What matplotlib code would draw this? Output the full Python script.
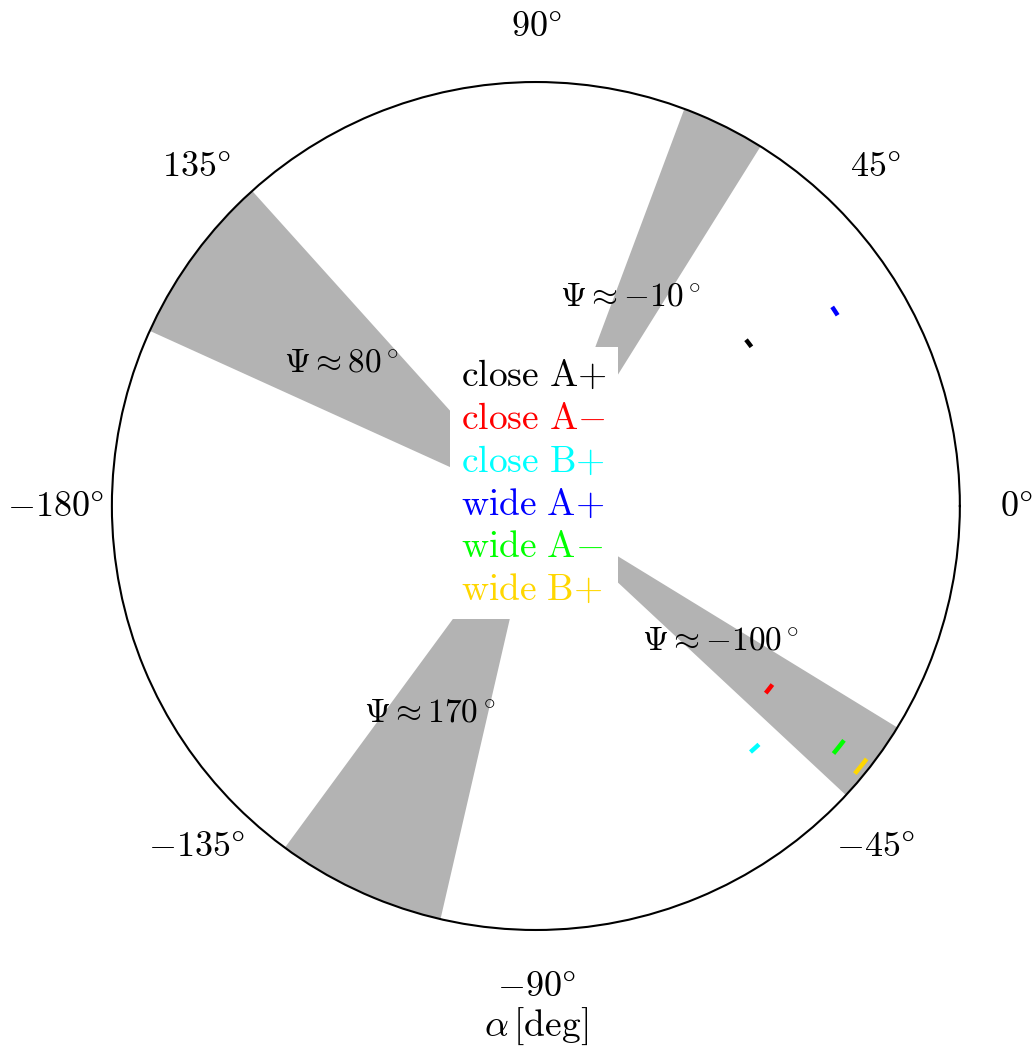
import numpy as np
import matplotlib
matplotlib.use('Agg')
import matplotlib.pyplot as plt
from matplotlib.lines import Line2D

plt.rcParams['mathtext.fontset'] = 'cm'

# gray exclusion wedges (degrees), start / end angle
wedge_start = [58.0, -43.0, 132.0, -126.3]
wedge_end = [69.5, -31.5, 155.6, -103.0]

# wedge labels
psi_labels = [r'$\Psi \approx {-10}^\circ$', r'$\Psi \approx 80^\circ$',
              r'$\Psi \approx {-100}^\circ$', r'$\Psi \approx 170^\circ$']
psi_theta = [65.7, 143.7, -36.1, -117.2]
psi_r = [0.54, 0.57, 0.54, 0.55]

# measured configurations: angle, angular spread, radius
configs = ['close A+', 'close A−', 'close B+', 'wide A+', 'wide A−', 'wide B+']
legend_tex = [r'$\mathrm{close\ A{+}}$', r'$\mathrm{close\ A{-}}$', r'$\mathrm{close\ B{+}}$',
              r'$\mathrm{wide\ A{+}}$', r'$\mathrm{wide\ A{-}}$', r'$\mathrm{wide\ B{+}}$']
colors = ['black', 'red', 'cyan', 'blue', 'lime', 'gold']
alpha_deg = [37.4, -38.1, -47.9, 33.1, -38.5, -38.7]
alpha_err = [1.9, 2.1, 2.0, 1.6, 2.5, 2.6]
radius = [0.632, 0.699, 0.77, 0.842, 0.913, 0.982]

tick_deg = [0, 45, 90, 135, 180, 225, 270, 315]
tick_labels = [r'$0\degree$', r'$45\degree$', r'$90\degree$', r'$135\degree$',
               r'$-180\degree$', r'$-135\degree$', r'$-90\degree$', r'$-45\degree$']

fig = plt.figure(figsize=(10.36, 10.51), dpi=100)
ax = fig.add_axes([0.108, 0.1151, 0.8185, 0.8069], projection='polar')

# wedges
for a0, a1 in zip(wedge_start, wedge_end):
    w = np.deg2rad(a1 - a0)
    ax.bar(np.deg2rad(a0), 1.0, width=w, bottom=0, align='edge',
           color='#b3b3b3', edgecolor='none', zorder=1)

for lab, th, r in zip(psi_labels, psi_theta, psi_r):
    ax.text(np.deg2rad(th), r, lab, fontsize=24, ha='center', va='center', zorder=3)

# angular spread segments
for a, e, r, c in zip(alpha_deg, alpha_err, radius, colors):
    th = np.deg2rad(np.linspace(a - e / 2, a + e / 2, 10))
    ax.plot(th, np.full_like(th, r), color=c, lw=3.2, solid_capstyle='butt', zorder=4)

ax.set_ylim(0, 1)
ax.set_yticks([])
ax.grid(False)
ax.set_thetagrids(tick_deg, tick_labels, fontsize=26)
ax.tick_params(axis='x', pad=30)
ax.spines['polar'].set_linewidth(1.5)
ax.set_xlabel(r'$\alpha\,[\mathrm{deg}]$', fontsize=27, labelpad=2)

handles = [Line2D([], [], color='none') for _ in configs]
leg = fig.legend(handles, legend_tex, loc='center',
                 bbox_to_anchor=(534 / 1036, 1 - 483 / 1051),
                 handlelength=0, handletextpad=0, fontsize=27,
                 frameon=True, framealpha=1, edgecolor='none', fancybox=False,
                 labelspacing=0.18, borderpad=0.3)
for txt, c in zip(leg.get_texts(), colors):
    txt.set_color(c)

fig.savefig('out.png', dpi=100)
